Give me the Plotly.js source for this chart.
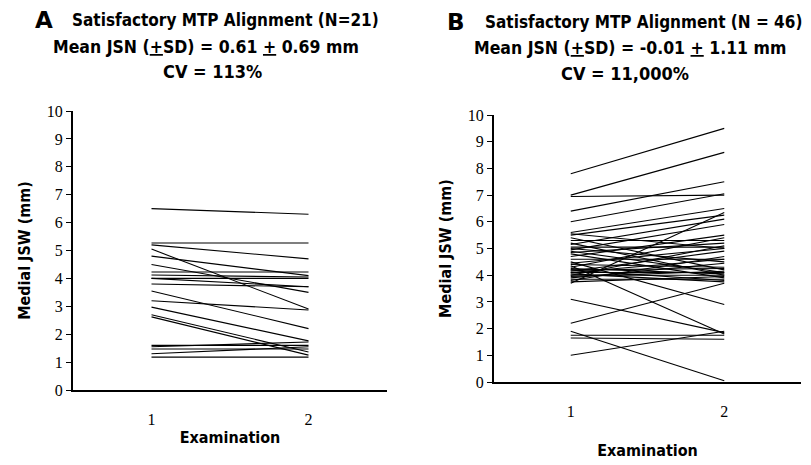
<!DOCTYPE html>
<html>
<head>
<meta charset="utf-8">
<script src="https://cdn.plot.ly/plotly-3.0.1.min.js"></script>
<style>
html,body{margin:0;padding:0;background:#fff;}
#chart{width:811px;height:465px;}
</style>
</head>
<body>
<div id="chart"></div>
<script>
// ---- Data ----
const examinations = [1, 2];
const xTickLabels = ["1", "2"];
const yTicks = [0,1,2,3,4,5,6,7,8,9,10];

// Panel A: 21 subjects, medial JSW (mm) at examination 1 and 2
const aExam1 = [6.5, 5.27, 5.2, 5.05, 4.8, 4.5, 4.23, 4.12, 4.0, 4.0, 3.8, 3.55, 3.2, 2.97, 2.7, 2.62, 1.6, 1.55, 1.47, 1.3, 1.18];
const aExam2 = [6.3, 5.27, 4.7, 2.9, 4.1, 3.5, 4.23, 4.05, 4.0, 3.7, 3.7, 2.2, 2.87, 1.76, 1.36, 1.25, 1.6, 1.72, 1.47, 1.55, 1.18];

// Panel B: 46 subjects
const bExam1 = [7.8, 7.0, 6.95, 6.4, 6.0,
  5.6, 5.55, 5.5, 5.4, 5.3, 5.2, 5.15, 5.05, 5.0, 4.95,
  4.9, 4.85, 4.8, 4.7, 4.6, 4.5, 4.45, 4.4, 4.35, 4.3,
  4.25, 4.2, 4.2, 4.15, 4.1, 4.1, 4.05, 4.0, 4.0, 3.95,
  3.9, 3.85, 3.8, 3.75, 3.7,
  3.1, 2.2, 1.9, 1.75, 1.65, 1.0];
const bExam2 = [9.5, 8.6, 7.0, 7.5, 7.05,
  6.5, 5.0, 6.25, 4.2, 5.3, 4.0, 6.1, 5.05, 4.5, 5.9,
  4.1, 5.2, 3.9, 5.5, 4.6, 2.9, 5.0, 4.3, 1.8, 5.4,
  4.05, 4.25, 3.8, 4.9, 4.1, 4.6, 3.75, 4.0, 5.1, 4.15,
  4.45, 3.85, 4.7, 3.95, 6.35,
  1.85, 3.7, 0.05, 1.75, 1.6, 1.9];

const titleA = ["Satisfactory MTP Alignment (N=21)", "Mean JSN (<u>+</u>SD) = 0.61 <u>+</u> 0.69 mm", "CV = 113%"];
const titleB = ["Satisfactory MTP Alignment (N = 46)", "Mean JSN (<u>+</u>SD) = -0.01 <u>+</u> 1.11 mm", "CV = 11,000%"];

// ---- Build ----
const W = 811, H = 465;
const px = v => v / W;
const py = v => 1 - v / H;

const traces = [];
function addPanel(e1, e2, xa, ya) {
  for (let i = 0; i < e1.length; i++) {
    traces.push({
      type: 'scatter', mode: 'lines',
      x: examinations, y: [e1[i], e2[i]],
      xaxis: xa, yaxis: ya,
      line: {color: '#000', width: 1.1},
      hoverinfo: 'skip', showlegend: false
    });
  }
}
addPanel(aExam1, aExam2, 'x', 'y');
addPanel(bExam1, bExam2, 'x2', 'y2');

const tickFont = {family: 'Liberation Serif, serif', size: 16, color: '#000'};
const titleFont = {family: 'DejaVu Sans Condensed, DejaVu Sans, sans-serif', size: 16, color: '#000', weight: 'bold'};

function xAxis(domain, anchor, standoff) {
  return {
    domain: domain, anchor: anchor, range: [0.5, 2.5],
    tickvals: examinations, ticktext: xTickLabels,
    showline: true, linecolor: '#000', linewidth: 2,
    ticks: '', showgrid: false, zeroline: false,
    tickfont: tickFont, ticklabelstandoff: 14,
    title: {text: 'Examination', font: titleFont, standoff: standoff}
  };
}
function yAxis(domain, anchor) {
  return {
    domain: domain, anchor: anchor, range: [0, 10],
    tickvals: yTicks,
    showline: true, linecolor: '#000', linewidth: 2,
    ticks: 'outside', ticklen: 5, tickcolor: '#000', tickwidth: 1,
    showgrid: false, zeroline: false,
    tickfont: tickFont,
    title: {text: 'Medial JSW (mm)', font: titleFont, standoff: 12}
  };
}

const annotations = [];
function addTitle(letter, lx, lines, centers, ys, sizes) {
  annotations.push({xref:'paper', yref:'paper', x: px(lx), y: py(ys[0]), xanchor:'center', yanchor:'middle',
    text: '<b>' + letter + '</b>', showarrow:false, font: {family:'DejaVu Sans, sans-serif', size: 23, color:'#000'}});
  for (let i = 0; i < lines.length; i++) {
    annotations.push({xref:'paper', yref:'paper', x: px(centers[i]), y: py(ys[i]), xanchor:'center', yanchor:'middle',
      text: lines[i], showarrow:false,
      font: {family: 'DejaVu Sans Condensed, DejaVu Sans, sans-serif', size: sizes[i], color: '#000', weight: 'bold'}});
  }
}
addTitle('A', 44, titleA, [225, 206, 212], [20, 47, 72], [17, 17.5, 18]);
addTitle('B', 456, titleB, [643, 630, 625], [22, 48, 73], [17, 17.5, 18]);

const layout = {
  width: W, height: H,
  margin: {l:0, r:0, t:0, b:0},
  paper_bgcolor: '#fff', plot_bgcolor: '#fff',
  showlegend: false, hovermode: false,
  xaxis: xAxis([px(73), px(387)], 'y', 5),
  yaxis: yAxis([1 - 390/H, 1 - 111/H], 'x'),
  xaxis2: xAxis([px(494), px(801)], 'y2', 26),
  yaxis2: yAxis([1 - 382/H, 1 - 115/H], 'x2'),
  annotations: annotations
};

Plotly.newPlot('chart', traces, layout, {staticPlot: true, displayModeBar: false});
</script>
</body>
</html>
